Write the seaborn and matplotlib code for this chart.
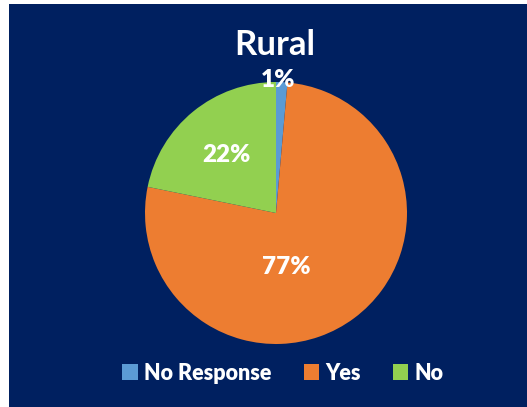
import matplotlib
matplotlib.use("Agg")
import matplotlib.pyplot as plt
import matplotlib.patches as mpatches
import seaborn as sns

# Survey responses for the rural group (percent)
categories = ["No Response", "Yes", "No"]
shares = [1.4, 76.8, 21.8]
colors = ["#5B9BD5", "#ED7D31", "#92D050"]
title = "Rural"

sns.set_style("white")
plt.rcParams["font.family"] = ["Lato", "DejaVu Sans"]

NAVY = "#002060"
W, H = 527, 407
fig = plt.figure(figsize=(W / 100, H / 100), dpi=100, facecolor="white")

# navy panel behind the chart
fig.patches.append(mpatches.Rectangle((9 / W, 0), 518 / W, 403 / H,
                                      transform=fig.transFigure,
                                      facecolor=NAVY, edgecolor="none", zorder=-10))

# square axes holding the pie
cx, cy, r = 276, 213, 131
ax = fig.add_axes([(cx - r) / W, (H - cy - r) / H, 2 * r / W, 2 * r / H])
ax.set_facecolor("none")
ax.set_zorder(5)

wedges, _, autotexts = ax.pie(
    shares, colors=colors, startangle=90, counterclock=False,
    autopct=lambda p: f"{p:.0f}%", pctdistance=0.5,
    wedgeprops=dict(linewidth=0),
)
ax.set_xlim(-1, 1)
ax.set_ylim(-1, 1)
ax.set_aspect("equal", adjustable="box")
ax.axis("off")

# label placement (x centre, baseline) in pie units
label_pos = [(0.015, 0.964), (0.082, -0.468), (-0.376, 0.392)]
for t, (lx, ly) in zip(autotexts, label_pos):
    t.set_position((lx, ly))
    t.set_verticalalignment("baseline")
    t.set_horizontalalignment("center")
    t.set_color("white")
    t.set_fontweight("heavy")
    t.set_fontsize(17.5)
    t.set_clip_on(False)

fig.text(275 / W, 1 - 55 / H, title, ha="center", va="baseline",
         color="white", fontsize=25, fontweight="bold", zorder=6)

handles = [mpatches.Patch(facecolor=c, edgecolor="none") for c in colors]
leg = fig.legend(handles, categories, loc="center", ncol=3,
                 bbox_to_anchor=(283 / W, 1 - 373 / H), frameon=False,
                 prop=dict(size=15.5, weight="heavy"),
                 handlelength=0.7, handleheight=0.7,
                 handletextpad=0.3, columnspacing=1.5, borderpad=0)
leg.set_zorder(6)
for txt in leg.get_texts():
    txt.set_color("white")

fig.savefig("out.png", dpi=100, facecolor="white")
